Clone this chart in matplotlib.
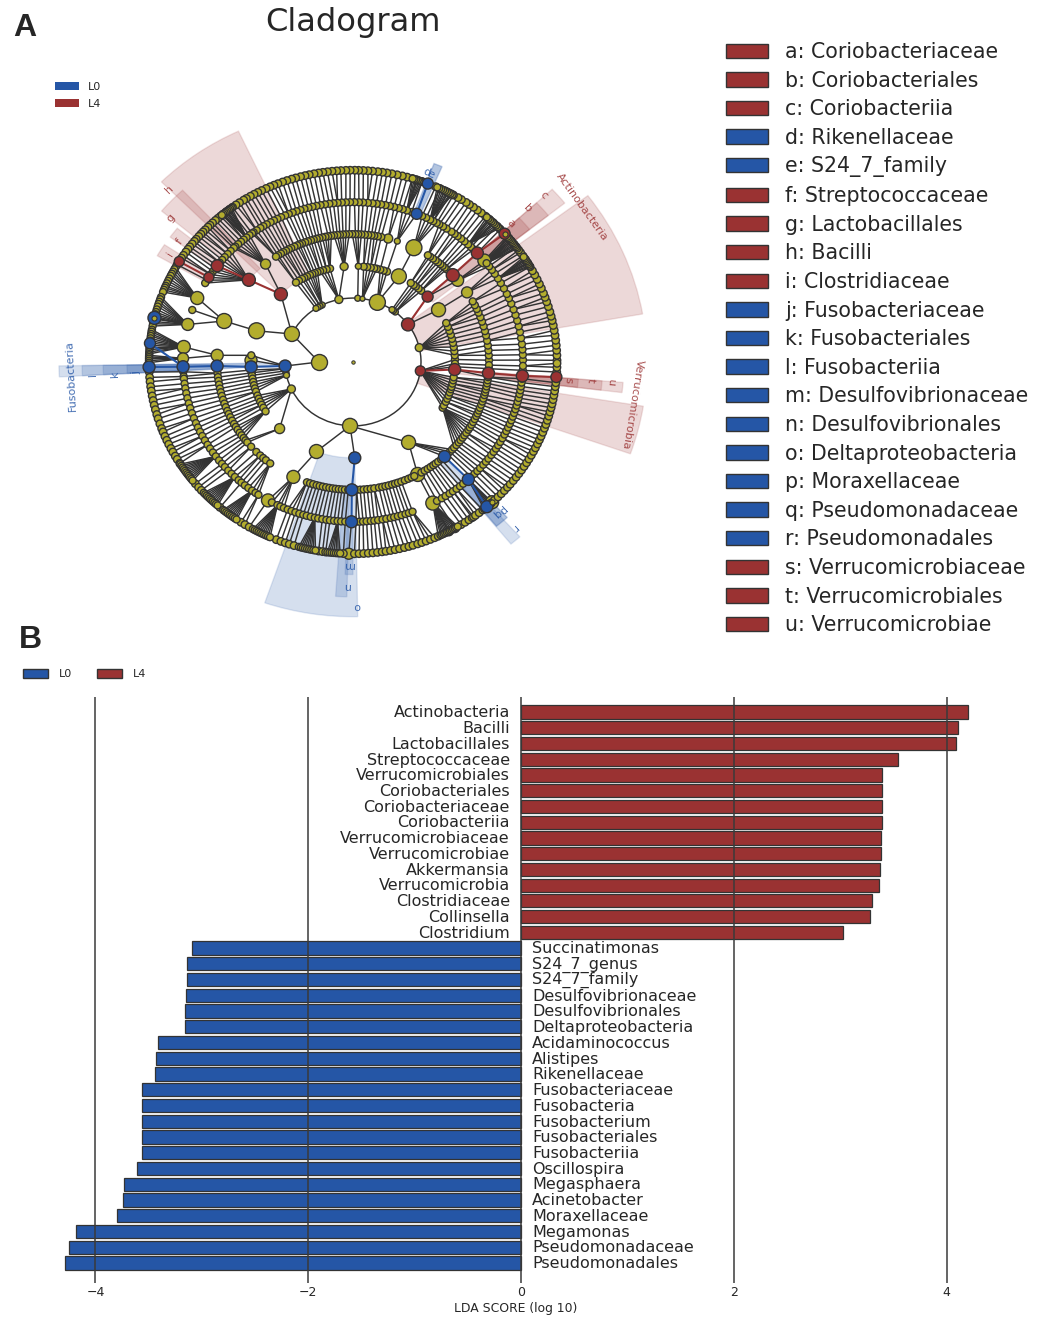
import numpy as np
import matplotlib
matplotlib.use('Agg')
import matplotlib.pyplot as plt
from matplotlib.collections import LineCollection
from matplotlib.patches import Patch

W, H = 1047, 1317
RED = '#9A3232'
BLUE = '#2556A6'
OLIVE = '#B3AD2E'
EDGE = '#333333'
INK = '#262626'

# ---------- panel B data ----------
lda_names = ['Actinobacteria', 'Bacilli', 'Lactobacillales', 'Streptococcaceae', 'Verrucomicrobiales',
             'Coriobacteriales', 'Coriobacteriaceae', 'Coriobacteriia', 'Verrucomicrobiaceae',
             'Verrucomicrobiae', 'Akkermansia', 'Verrucomicrobia', 'Clostridiaceae', 'Collinsella',
             'Clostridium', 'Succinatimonas', 'S24_7_genus', 'S24_7_family', 'Desulfovibrionaceae',
             'Desulfovibrionales', 'Deltaproteobacteria', 'Acidaminococcus', 'Alistipes', 'Rikenellaceae',
             'Fusobacteriaceae', 'Fusobacteria', 'Fusobacterium', 'Fusobacteriales', 'Fusobacteriia',
             'Oscillospira', 'Megasphaera', 'Acinetobacter', 'Moraxellaceae', 'Megamonas',
             'Pseudomonadaceae', 'Pseudomonadales']
lda_values = [4.20, 4.11, 4.09, 3.54, 3.395, 3.39, 3.39, 3.39, 3.385, 3.38, 3.375, 3.365, 3.30, 3.28, 3.03,
              -3.09, -3.14, -3.14, -3.15, -3.155, -3.16, -3.41, -3.43, -3.44, -3.56, -3.56, -3.56, -3.56,
              -3.56, -3.61, -3.73, -3.74, -3.80, -4.18, -4.25, -4.29]
lda_ticks = [-4, -2, 0, 2, 4]

# ---------- legend of panel A ----------
clade_keys = ['a: Coriobacteriaceae', 'b: Coriobacteriales', 'c: Coriobacteriia', 'd: Rikenellaceae',
              'e: S24_7_family', 'f: Streptococcaceae', 'g: Lactobacillales', 'h: Bacilli',
              'i: Clostridiaceae', 'j: Fusobacteriaceae', 'k: Fusobacteriales', 'l: Fusobacteriia',
              'm: Desulfovibrionaceae', 'n: Desulfovibrionales', 'o: Deltaproteobacteria',
              'p: Moraxellaceae', 'q: Pseudomonadaceae', 'r: Pseudomonadales', 's: Verrucomicrobiaceae',
              't: Verrucomicrobiales', 'u: Verrucomicrobiae']
clade_kind = list('rrrbbrrrrbbbbbbbbbrrr')

# ---------- cladogram: angle (degrees) of every small node per level ----------
level6_angles = [0.5,2,3.5,5,6.5,8,9.5,11,12.5,13.8,15.2,16.8,18.3,19.7,21,22.6,24,25.5,27,28.4,29.8,31,32.3,
 33.6,34.8,35.7,36.9,37.8,39.1,40.2,41,43.8,45,46.6,48,49.5,51,52.4,53.8,55.2,56.3,57.9,59,60.5,61.3,62.4,63.2,
 64.8,66.1,70.2,71.8,73.1,74.6,76,77.5,79,80.4,81.7,83,84.5,85.8,87.1,88.4,89.5,90.8,92,93.4,94.6,95.9,97.2,
 98.5,99.7,101,102.4,103.6,104.9,106.3,107.5,108.9,110.2,111.6,112.8,114,115.2,116.6,117.8,119,120.2,121.5,
 122.4,123.8,125,126.2,127.3,128.4,129.6,130.5,131.5,132.4,133.5,134.5,135.3,136.4,137.3,138.2,139.1,140.2,141,
 142,143.1,144,145,146.2,147.2,149.5,183,184.6,185.9,187.4,188.7,190.2,191.6,193,
 194.4,195.9,197.2,198.8,200.3,201.4,202.8,204.1,205.4,206.8,208,209.4,210.5,211.9,
 219.4,220.8,222,229.3,236.7,238,239.4,247.9,249.3,250.6,251.8,253.2,260.3,261.4,262.3,267.3,
 270.4,271.7,273,274.3,275.6,276.9,278.2,279.3,280.6,281.9,283.2,284.6,285.9,287.1,288.5,289.7,291,292.3,293.6,
 294.7,302,303.3,304.6,305.7,306.2,306.9,308.2,309.5,312.6,313.9,315.3,316.6,
 317.9,319.2,320.4,321.8,323.1,324.4,325.7,327,328.3,329.6,330.9,332.2,333.4,334.7,336,337.2,338.5,339.8,341,
 342.3,343.6,344.9,346.2,347.4,348.7,350,351.3,352.6,353.8,357,358.4,359.6]

level5_angles = [0.7,2.6,4.5,6.4,8.6,10.8,12.9,15,17.1,19.2,21.4,23.5,25.2,27.4,29.6,31.5,33.5,35.2,36.8,38.2,
 44.8,46,47.4,49,50.5,52,53.3,54.6,56.6,58,59.5,60.5,61.8,63,64.5,66,69.8,71.5,73,74.4,76,77.5,79,80.5,82,83.4,85,
 86.6,88,89.5,91,92.4,93.8,95.2,96.6,98,99.5,101,102.4,103.8,105.2,106.6,108,109.4,110.8,112.2,113.5,115,116.4,
 117.7,119,120.5,121.8,123,124.5,125.8,126.4,127.5,128.8,130,131.2,132.5,133.8,134.5,136,137.5,139,140.3,141.6,
 144.2,145.5,146.8,149.2,150.4,183.5,185.2,186,187.8,189.5,191.3,193.1,195,196.8,198.7,200.6,202.5,204.2,205.9,
 207.6,209.4,211.2,212.8,214.5,216.2,218,219.6,221.1,222.8,224.4,226,227.7,229,230.5,232,233.6,235,236.2,241.5,
 243.6,244.7,246,247.4,248.8,250.2,251.6,253,254.2,255.6,257,258.2,259.6,261,262.2,263.6,264.8,266,267.4,271,272.2,
 273.4,274.6,276,277.2,278.5,280,281.3,282.8,284,285.3,286.6,288,289.2,290.5,299.6,301.5,303,304.6,306,307.5,309,
 310.4,314,315.6,317,318.4,320,321.4,322.8,324.4,325.8,327.2,328.6,330,331.5,333,334.4,335.8,337.2,338.6,340,341.4,
 342.8,344.2,345.6,347,348.4,349.8,351.2,352.6,354,357,358.6]

level4_angles = [0.8,3,5.2,7.4,9.6,12,14,16.2,18.4,20.5,22.7,24.5,26.4,28.3,46.5,47.6,48.8,50,51.3,52.6,54,55.5,
 56.6,78,79.5,81,82.2,83.6,85,86.5,87.8,89,90.3,91.6,93,94.2,95.5,96.6,98,99.2,100.5,101.7,103,104.3,105.5,106.8,
 108,109.3,110.6,112,113.1,114.2,115.5,117,118.2,119.5,120.8,122,123.4,124.5,185,186.8,188.5,190.2,192,193.7,195.4,
 197.2,199,200.7,202.5,204,205.6,207.3,209,210.5,212,213.6,215,216.5,217.8,219,221.5,224.7,227,228.7,230.2,232.5,
 250.2,251.6,253,254.5,255.8,257.2,258.6,260,261.4,262.7,264,265.3,266.6,268,271.5,273,274.5,276,277.5,279,281,
 282.4,283.8,285.2,286.7,288,289.3,290.8,292.4,294,295.5,296.8,300.2,301.8,303.3,304.8,306.2,307.4,308.8,310.4,
 314,315.4,316.8,318,319.5,321,322.3,323.7,325,326.4,328,329.2,330.6,332,333.5,335,336.3,337.7,339,340.5,342,343.4,
 345,346.3,347.6,349,350.4,351.8,353.2,357,358.6]

level3_angles = [1.5,4,6.5,9,11.5,14,16.5,19,21.5,24,48,50,52,53.5,55.5,70.5,72.5,74.5,76.5,78,80,82,84,103,105,107,
 108.8,110.4,112,113.5,115,116.8,118.5,120,122,124,176,184.8,186.5,188,190,192,194,196,198,200.5,202.5,204.5,206.5,
 208.5,211,331.5,333,335.5,337.5,339.5,341.5,343.5,345,347,349,350.8,357.2,359]

level2_angles = [51.5,53.5,55,117,119,121,123,186,188,190,192]

# stretches of level 4 whose small nodes show no branch towards level 3 (start, end angle)
level4_without_branch = [(221,233),(250,268),(271,297),(300,311)]

# genus fans: (angle of the family node on level 5, angles of its genera on level 6)
genus_fans = [(156.4,[150.4,151.1,151.9,152.6,153.3,154.2,155,155.8,156.6,157.2,157.9,158.6]),
 (166.4,[160.2,160.9,161.7,162.4,163.2,164.1,164.9,165.6,166.2,167,167.8,168.5,169.2]),
 (174.6,[170.3,170.9,171.6,172.2,172.9,173.6,174.3,175,175.7,176.3,177,177.6]),
 (178.7,[178,178.5,179,179.6,180.2]),
 (216.2,[212.2,212.8,213.4,214,214.6,215.2,215.8,216.4,217,217.6,218.2]),
 (226,[223,223.6,224.2,224.8,225.4,226,226.6,227.2,227.8,228.4]),
 (233.6,[230.5,231,231.6,232.2,232.8,233.4,234,234.6,235.2]),
 (243.6,[240.6,241.2,241.8,242.4,243,243.6,244.2,244.8,245.4,246]),
 (257,[254.6,255.2,255.8,256.4,257,257.6,258.2,258.8,259.4]),
 (264.8,[262.8,263.4,264,264.6,265.2,265.8,266.4]),
 (38.2,[36.3,36.8,37.3,37.8,38.3,38.8,39.3,39.8,40.3,40.8]),
 (31.5,[29.8,30.2,30.7,31.2,31.7,32.2,32.7,33.2]),
 (47.4,[44.2,44.8,45.4,46,46.6,47.2,47.8,48.4,49]),
 (63,[60.8,61.4,62,62.6,63.2,63.8,64.4,65,65.6]),
 (71.5,[70,70.5,71,71.5,72,72.5,73]),
 (128.8,[126.5,127,127.5,128,128.5,129,129.5,130]),
 (298,[295.4,295.9,296.4,296.9,297.4,297.9,298.4,298.9,299.4,299.9,300.4,300.9]),
 (312.7,[310,310.5,311,311.5,312,312.5])]

# big or coloured nodes: (level, angle, diameter in px, kind)
big_nodes = [(1,180,16,'y'),
 (2,13,8,'y'),(2,36,13,'r'),(2,69,16,'y'),(2,82,5,'y'),(2,86,6,'y'),(2,102,8,'y'),(2,154,15,'y'),(2,183.6,12,'b'),
 (2,205,8,'y'),(2,267.5,15,'y'),(2,352,10,'r'),
 (3,33,14,'y'),(3,43,11,'r'),(3,63.3,15,'y'),(3,87,6,'y'),(3,95,8,'y'),(3,135,13,'r'),(3,161,16,'y'),(3,179,12,'y'),
 (3,182.9,12,'b'),(3,224,10,'y'),(3,249,14,'y'),(3,271,12,'b'),(3,303,14,'y'),(3,355.5,12,'r'),
 (4,33,11,'y'),(4,39.7,12,'y'),(4,42.8,13,'r'),(4,63.4,16,'y'),(4,71,6,'y'),(4,75,9,'y'),(4,130,10,'y'),(4,140,13,'r'),
 (4,161.3,15,'y'),(4,177,12,'y'),(4,181.8,12,'b'),(4,244,13,'y'),(4,269.5,12,'b'),(4,298.4,14,'y'),(4,312.3,12,'b'),
 (4,355,12,'r'),
 (5,39.4,13,'y'),(5,43,12,'r'),(5,68,11,'b'),(5,143,12,'r'),(5,148,10,'r'),(5,156.4,13,'y'),(5,161,7,'y'),
 (5,166.4,12,'y'),(5,174.6,13,'y'),(5,178.7,11,'y'),(5,181.7,12,'b'),(5,240,13,'y'),(5,269.5,12,'b'),(5,298,14,'y'),
 (5,312.7,12,'b'),(5,355,12,'r'),
 (6,42,11,'r'),(6,68.5,11,'b'),(6,148.4,10,'r'),(6,166.7,13,'b'),(6,174.4,11,'b'),(6,181.5,12,'b'),(6,268.8,11,'y'),
 (6,298,9,'y'),(6,300,9,'y'),(6,311,12,'b'),(6,313,13,'y'),(6,355.5,11,'r')]

# arcs along the phylum ring and chords towards the first node
phylum_arcs = [(13,36),(36,69),(69,86),(86,102),(102,154),(183.6,205),(205,267.5),(267.5,352),(352,373)]
first_level_links = [154,183.6]

# shaded clades: (first level, outer level, start angle, end angle, kind)
clade_wedges = [(2,8.65,10,37,'r'),(3,7.97,38.6,42.7,'r'),(4,7.35,38.6,42.7,'r'),(5,6.65,38.6,42.7,'r'),
 (5,6.65,66.8,69,'b'),(5,6.65,66.8,69,'b'),
 (5,6.65,141,144,'r'),(4,7.35,133,140,'r'),(3,7.97,115,135,'r'),(5,6.65,146.5,150,'r'),
 (2,8.65,180.8,183.1,'b'),(3,7.97,180.8,183.1,'b'),(4,7.35,180.8,183.1,'b'),(5,6.65,180.8,183.1,'b'),
 (5,6.65,268,270,'b'),(4,7.35,266,268.6,'b'),(3,7.97,251,271,'b'),
 (5,6.65,309.4,313,'b'),(5,6.65,309.4,313,'b'),(4,7.35,309.2,311.9,'b'),
 (5,6.65,353.1,355.4,'r'),(4,7.35,353.1,355.4,'r'),(3,7.97,353.1,355.4,'r'),(2,8.65,340.6,350.8,'r')]

# clade letters: (letter, level position, angle, kind)
clade_letters = [('a',6.35,43,'r'),('b',7.03,43,'r'),('c',7.67,43,'r'),('d',6.3,70,'b'),('e',6.3,68.8,'b'),
 ('f',6.35,143.5,'r'),('g',7.0,139.8,'r'),('h',7.65,135,'r'),('i',6.35,148,'r'),
 ('j',6.4,183,'b'),('k',7.0,183,'b'),('l',7.67,183,'b'),('m',6.35,268.7,'b'),('n',7.0,268.5,'b'),('o',7.64,271,'b'),
 ('p',6.37,313.5,'b'),('q',6.35,312,'b'),('r',7.03,312.3,'b'),('s',6.35,355,'r'),('t',7.0,355.2,'r'),('u',7.62,355.1,'r')]
phylum_labels = [('Actinobacteria',8.3,35.8,'r'),('Fusobacteria',8.3,183,'b'),('Verrucomicrobia',8.34,350.9,'r')]

KIND = {'r': RED, 'b': BLUE, 'y': OLIVE}
plt.rcParams['font.family'] = 'DejaVu Sans'
fig = plt.figure(figsize=(W / 100, H / 100), dpi=100, facecolor='white')


def fx(x):
    return x / W


def fy(y):
    return 1 - y / H


# ---------- cladogram ----------
CX, CY, RX, SQUASH, LEVEL_PX = 353, 362, 310, 0.94, 34
LW = 1.05
ax = fig.add_axes([fx(CX - RX), fy(CY + RX * SQUASH), 2 * RX / W, 2 * RX * SQUASH / H], projection='polar')
ax.set_aspect('auto')
ax.set_axis_off()

for lo, hi, a0, a1, k in clade_wedges:
    ax.bar(np.radians(a0), hi - lo, width=np.radians(a1 - a0), bottom=lo, align='edge',
           facecolor=matplotlib.colors.to_rgba(KIND[k], 0.19), edgecolor=matplotlib.colors.to_rgba(KIND[k], 0.14),
           linewidth=1, zorder=1)

small = {6: level6_angles, 5: level5_angles, 4: level4_angles, 3: level3_angles, 2: level2_angles}
small_size = {6: 7.5, 5: 7, 4: 7, 3: 7, 2: 6}
nodes = {lv: [(a, small_size[lv], 'y') for a in small.get(lv, [])] for lv in range(1, 7)}
for lv, a, d, k in big_nodes:
    nodes[lv].append((a, d, k))


def gap(a, b):
    return abs((a - b + 180) % 360 - 180)


segs, red_segs, blue_segs = [], [], []
for lv in range(3, 7):
    for a, d, k in nodes[lv]:
        if lv == 4 and k == 'y' and d <= 7 and any(s <= a <= e for s, e in level4_without_branch):
            continue
        pool = nodes[lv - 1]
        if lv == 3 and d > 7:
            pool = [p for p in pool if p[1] > 6 or p[2] != 'y']
        same = [p for p in pool if p[2] == k and k != 'y' and gap(p[0], a) < 8]
        par = min(same or pool, key=lambda p: gap(p[0], a))
        seg = [(np.radians(a), lv), (np.radians(par[0]), lv - 1)]
        (red_segs if same and k == 'r' else blue_segs if same and k == 'b' else segs).append(seg)
fan_nodes = []
for hub, leaves in genus_fans:
    for a in leaves:
        segs.append([(np.radians(hub), 5), (np.radians(a), 6)])
        fan_nodes.append((a, 7, 'y'))
nodes[6].extend(fan_nodes)
for a in first_level_links:
    segs.append([(np.radians(a), 2), (np.radians(180), 1)])
ax.add_collection(LineCollection(segs, colors=EDGE, linewidths=LW, zorder=2))
ax.add_collection(LineCollection(red_segs, colors=RED, linewidths=1.5, zorder=2.1))
ax.add_collection(LineCollection(blue_segs, colors=BLUE, linewidths=1.5, zorder=2.1))
for a0, a1 in phylum_arcs:
    ln, = ax.plot(np.radians([a0, a1]), [2, 2], color=EDGE, lw=LW, zorder=2)
    ln.get_path()._interpolation_steps = 40

for lv in range(6, 0, -1):
    rows = sorted(nodes[lv], key=lambda n: (n[2] != 'y', -n[1]))
    ax.scatter(np.radians([n[0] for n in rows]), [lv] * len(rows), s=[(0.72 * n[1]) ** 2 for n in rows],
               c=[KIND[n[2]] for n in rows], edgecolors=EDGE, linewidths=1.0, zorder=3 + (6 - lv) * 0.01)
ax.scatter([0], [0], s=6, c=OLIVE, edgecolors=EDGE, linewidths=0.7, zorder=3)
ax.scatter(np.radians([42, 166.7, 313]), [6, 6, 6], s=(0.72 * 5) ** 2, c=OLIVE, edgecolors=EDGE, linewidths=0.8,
           zorder=3.2)

for t, r, a, k in clade_letters:
    ax.text(np.radians(a), r, t, color=KIND[k], fontsize=8, rotation=a - 90, rotation_mode='anchor',
            ha='center', va='center', alpha=0.85, zorder=4)
for t, r, a, k in phylum_labels:
    ax.text(np.radians(a), r, t, color=KIND[k], fontsize=8, rotation=a - 90, rotation_mode='anchor',
            ha='center', va='center', alpha=0.85, zorder=4)
ax.set_thetalim(0, 2 * np.pi)
ax.set_rlim(0, RX / LEVEL_PX)

fig.text(fx(353), fy(31), 'Cladogram', fontsize=23.2, color=INK, ha='center', va='baseline')
fig.text(fx(13), fy(36), 'A', fontsize=23, color=INK, fontweight='bold', family='Liberation Sans', va='baseline')
fig.text(fx(19), fy(648), 'B', fontsize=23, color=INK, fontweight='bold', family='Liberation Sans', va='baseline')

# small legend of panel A
leg1 = fig.legend(handles=[Patch(facecolor=BLUE, edgecolor='none', label='L0'),
                           Patch(facecolor=RED, edgecolor='none', label='L4')],
                  loc='upper left', bbox_to_anchor=(fx(55), fy(82)), frameon=False, fontsize=8, borderpad=0,
                  borderaxespad=0, handlelength=2.16, handleheight=0.72, handletextpad=0.8, labelspacing=0.6,
                  labelcolor=INK)
# legend of the clade letters
leg2 = fig.legend(handles=[Patch(facecolor=KIND[k], edgecolor=EDGE, linewidth=1, label=t)
                           for t, k in zip(clade_keys, clade_kind)],
                  loc='upper left', bbox_to_anchor=(fx(726), fy(42)), frameon=False, fontsize=14.8, borderpad=0,
                  borderaxespad=0, handlelength=2.04, handleheight=0.7, handletextpad=0.83, labelspacing=0.419,
                  labelcolor=INK)
# legend of panel B
leg3 = fig.legend(handles=[Patch(facecolor=BLUE, edgecolor=EDGE, linewidth=1, label='L0'),
                           Patch(facecolor=RED, edgecolor=EDGE, linewidth=1, label='L4')],
                  loc='upper left', bbox_to_anchor=(fx(23), fy(669)), frameon=False, fontsize=8, ncol=2, borderpad=0,
                  borderaxespad=0, handlelength=2.25, handleheight=0.8, handletextpad=1.0, columnspacing=2.23,
                  labelcolor=INK)

# ---------- LDA bars ----------
AL, AR, AT, AB, X0, XS = 30, 1002, 697, 1283, 521, 106.4
PITCH, FIRST = 15.74, 712
bx = fig.add_axes([fx(AL), fy(AB), (AR - AL) / W, (AB - AT) / H])
y = np.arange(len(lda_values))
bx.barh(y, lda_values, height=0.84, color=[RED if v > 0 else BLUE for v in lda_values], edgecolor=EDGE,
        linewidth=0.9, zorder=1)
bx.set_xlim((AL - X0) / XS, (AR - X0) / XS)
bx.set_ylim((AB - FIRST) / PITCH, (AT - FIRST) / PITCH)
for i, (n, v) in enumerate(zip(lda_names, lda_values)):
    bx.text(-0.105 if v > 0 else 0.105, i + 0.05, n, ha='right' if v > 0 else 'left', va='center', fontsize=11.5,
            color=INK, zorder=5)
bx.set_xticks(lda_ticks)
bx.set_yticks([])
bx.set_axisbelow(False)
bx.grid(axis='x', color='#3a3a3a', linewidth=1.1)
bx.tick_params(axis='x', length=0, labelsize=9, pad=2.5, colors=INK)
for s in bx.spines.values():
    s.set_visible(False)
bx.patch.set_alpha(0)
bx.set_xlabel('LDA SCORE (log 10)', fontsize=8.9, color=INK, labelpad=1.5)

fig.savefig('out.png', dpi=100, facecolor='white')
